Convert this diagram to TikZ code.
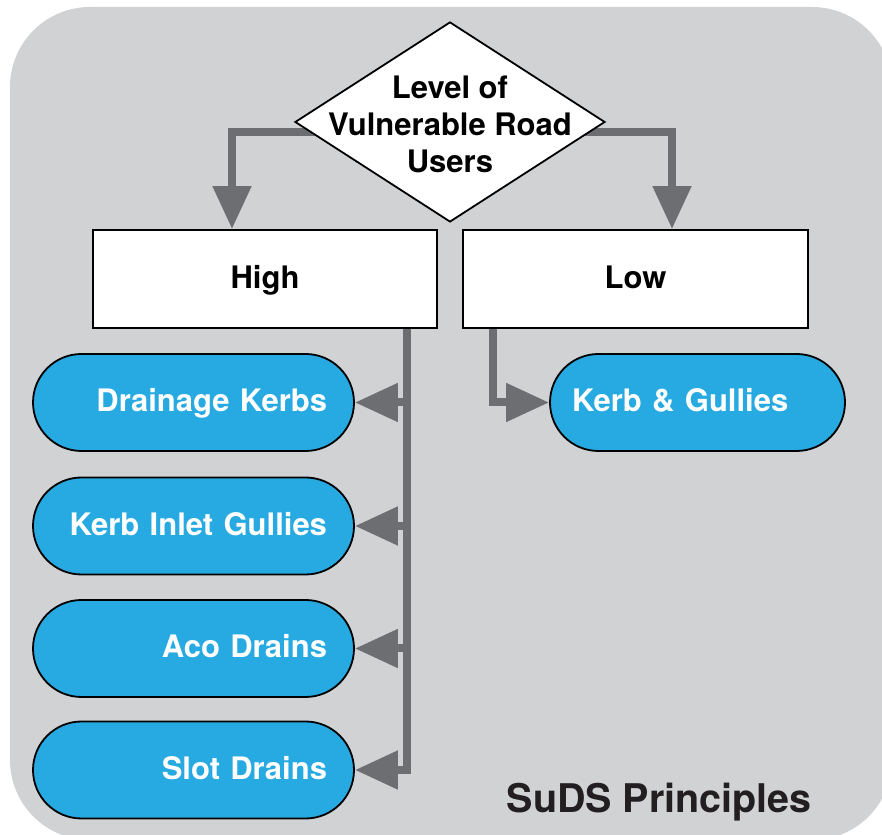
\documentclass[tikz,border=0pt]{standalone}
\usepackage{fontspec}
\setmainfont{TeX Gyre Heros}
\usetikzlibrary{shapes.geometric,arrows.meta,positioning}
\definecolor{bggray}{HTML}{D1D2D4}
\definecolor{arrgray}{HTML}{6D6E71}
\definecolor{pillblue}{HTML}{27A9E1}
\definecolor{darktext}{HTML}{231F20}
\pgfdeclarelayer{bg}
\pgfsetlayers{bg,main}
\tikzset{
  flowline/.style={draw=arrgray, line width=8pt, line join=miter},
  flowarrow/.style={flowline, -{Triangle[width=37pt,length=43pt]}},
  whitebox/.style={draw=black, line width=1.8pt, fill=white, minimum width=344pt, minimum height=98pt, inner sep=0pt,
    text height=22pt, text depth=3.5pt, font=\fontsize{31}{37}\selectfont\bfseries},
  pill/.style={draw=black, line width=1.8pt, fill=pillblue, rounded corners=48.5pt, minimum height=97pt,
    text=white, text height=22pt, text depth=3pt, font=\fontsize{31}{37}\selectfont\bfseries, inner ysep=0pt},
  leftpill/.style={pill, minimum width=321pt, inner xsep=27pt, text width=267pt, align=right},
  decision/.style={diamond, draw=black, line width=1.8pt, fill=white, minimum width=310pt, minimum height=200pt, inner sep=0pt},
  dectext/.style={align=center, font=\fontsize{31}{37}\selectfont\bfseries, inner sep=0pt}
}
\begin{document}
\begin{tikzpicture}[x=1pt,y=1pt]
\useasboundingbox (0,0) rectangle (882,834);
\clip (0,0) rectangle (882,834);
% nodes
\node[decision] (dia) at (450,712) {};
\node[dectext] (diatext) at (450,710) {Level of\\Vulnerable Road\\Users};
\node[whitebox] (high) at (265,555) {High};
\node[whitebox, minimum width=345pt] (low) at (635.5,555) {Low};
\node[leftpill] (drain) at (193.5,431.5) {Drainage Kerbs};
\node[leftpill] (inlet) at (193.5,308) {Kerb Inlet Gullies};
\node[leftpill] (aco) at (193.5,185.5) {Aco Drains};
\node[leftpill] (slot) at (193.5,64) {Slot Drains};
\node[pill, minimum width=295pt, inner xsep=22pt, text width=251pt, align=left] (kg) at (697.5,431.5) {Kerb \& Gullies};
\node[anchor=base east, text=darktext, font=\fontsize{39.5}{45}\selectfont\bfseries, inner sep=0pt] (title) at (812,22) {SuDS Principles};
% background and connectors
\begin{pgfonlayer}{bg}
  \fill[bggray, rounded corners=80pt] (10,827) rectangle (892,-6);
  \coordinate (tl) at ([xshift=25pt,yshift=-10pt]dia.west);
  \coordinate (tr) at ([xshift=-25pt,yshift=-10pt]dia.east);
  \draw[flowarrow] (tl) -| ([xshift=-33pt]high.north);
  \draw[flowarrow] (tr) -| ([xshift=36.5pt]low.north);
  \coordinate (trunk) at ([xshift=142pt]high.south);
  \draw[flowarrow] (trunk) |- (slot.east);
  \draw[flowarrow] (trunk |- drain.east) -- (drain.east);
  \draw[flowarrow] (trunk |- inlet.east) -- (inlet.east);
  \draw[flowarrow] (trunk |- aco.east) -- (aco.east);
  \coordinate (lowdrop) at ([xshift=-142.5pt]low.south);
  \draw[flowarrow] (lowdrop) |- (kg.west);
\end{pgfonlayer}
\end{tikzpicture}
\end{document}
